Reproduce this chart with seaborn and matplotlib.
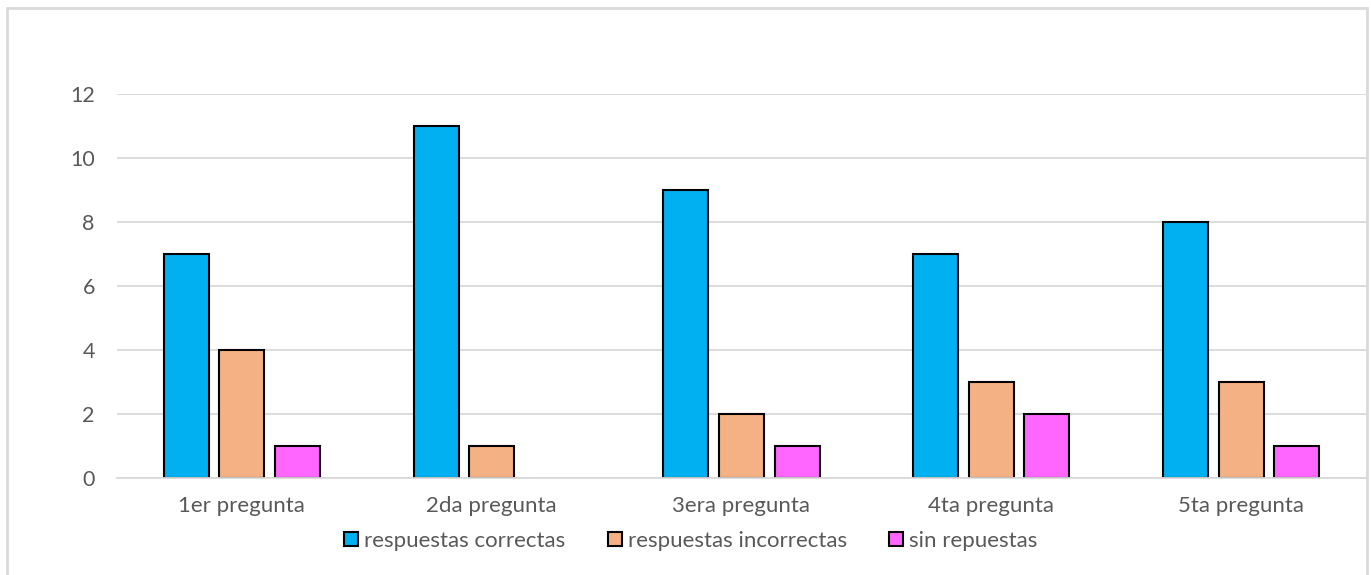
import matplotlib
matplotlib.use("Agg")
import matplotlib.pyplot as plt
from matplotlib.patches import Rectangle, Patch
import seaborn as sns
import pandas as pd

preguntas = ["1er pregunta", "2da pregunta", "3era pregunta", "4ta pregunta", "5ta pregunta"]
series = ["respuestas correctas", "respuestas incorrectas", "sin repuestas"]
correctas = [7, 11, 9, 7, 8]
incorrectas = [4, 1, 2, 3, 3]
sin_respuesta = [1, 0, 1, 2, 1]
y_ticks = [0, 2, 4, 6, 8, 10, 12]

colores = ["#00B0F0", "#F4B183", "#FF66FF"]
texto = "#595959"
rejilla = "#D9D9D9"

df = pd.DataFrame({
    "pregunta": preguntas * 3,
    "serie": [series[0]] * 5 + [series[1]] * 5 + [series[2]] * 5,
    "valor": correctas + incorrectas + sin_respuesta,
})

sns.set_theme(style="white")
plt.rcParams["font.family"] = ["Lato", "DejaVu Sans"]

W, H = 1371, 575
fig = plt.figure(figsize=(W / 100, H / 100), dpi=100)
ax = fig.add_axes([117 / W, 1 - 478 / H, 1249 / W, 384 / H])

sns.barplot(data=df, x="pregunta", y="valor", hue="serie", order=preguntas,
            hue_order=series, palette=colores, width=0.667, gap=0.19,
            edgecolor="black", linewidth=1.5, saturation=1, ax=ax, legend=False)

# hide zero-height bars so no outline is drawn
for p in ax.patches:
    if p.get_height() == 0:
        p.set_visible(False)

ax.set_xlim(-0.5, len(preguntas) - 0.5)
ax.set_ylim(0, 12)
ax.set_yticks(y_ticks)
ax.yaxis.grid(True, color=rejilla, linewidth=1.3)
ax.set_axisbelow(True)
for s in ["top", "right", "left"]:
    ax.spines[s].set_visible(False)
ax.spines["bottom"].set_color(rejilla)
ax.spines["bottom"].set_linewidth(1.3)
ax.tick_params(axis="both", length=0, colors=texto)
ax.tick_params(axis="y", pad=16, labelsize=15.5)
ax.tick_params(axis="x", pad=13, labelsize=16)
ax.set_xlabel("")
ax.set_ylabel("")

handles = [Patch(facecolor=c, edgecolor="black", linewidth=1.5, label=s)
           for c, s in zip(colores, series)]
fig.legend(handles=handles, loc="center", bbox_to_anchor=(691 / W, 1 - 541 / H),
           ncol=3, frameon=False, fontsize=16, handlelength=0.63, handleheight=0.63,
           handletextpad=0.27, columnspacing=1.9, labelcolor=texto,
           borderpad=0, borderaxespad=0)

fig.patches.append(Rectangle((7 / W, -0.02), 1360 / W, 1 - 8 / H + 0.02,
                             transform=fig.transFigure, fill=False,
                             edgecolor=rejilla, linewidth=2))

fig.savefig("out.png", dpi=100, facecolor="white")
